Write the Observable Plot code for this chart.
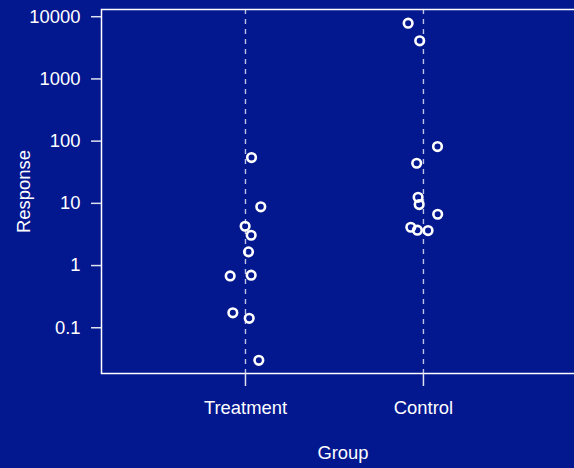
<!DOCTYPE html>
<html>
<head>
<meta charset="utf-8">
<script src="https://cdn.jsdelivr.net/npm/d3@7"></script>
<script src="https://cdn.jsdelivr.net/npm/@observablehq/plot@0.6"></script>
<style>
  html, body { margin: 0; padding: 0; background: #03178f; overflow: hidden; }
  #chart svg { display: block; max-width: none !important; }
</style>
</head>
<body>
<div id="chart"></div>
<script>
const groups = ["Treatment", "Control"];
const treatmentValues = [54.5, 8.8, 4.28, 3.07, 1.66, 0.68, 0.70, 0.174, 0.142, 0.030];
const treatmentJitter = [0.034, 0.086, -0.002, 0.032, 0.017, -0.086, 0.032, -0.071, 0.021, 0.075];
const controlValues = [7860, 4100, 81.9, 44.1, 12.5, 9.57, 6.68, 4.13, 3.70, 3.65];
const controlJitter = [-0.086, -0.021, 0.079, -0.038, -0.030, -0.024, 0.080, -0.071, -0.034, 0.026];
const yTicks = [0.1, 1, 10, 100, 1000, 10000];

const data = [
  ...treatmentValues.map((v, i) => ({group: 1, pos: 1 + treatmentJitter[i], value: v})),
  ...controlValues.map((v, i) => ({group: 2, pos: 2 + controlJitter[i], value: v}))
];

const font = "'Liberation Sans', Arial, Helvetica, sans-serif";
const fs = 18.4;

const chart = Plot.plot({
  width: 600,
  height: 468,
  marginLeft: 101,
  marginRight: 16,
  marginTop: 9,
  marginBottom: 95,
  style: {background: "#03178f", color: "#ffffff", fontFamily: font, fontSize: fs + "px", overflow: "visible", maxWidth: "none"},
  x: {type: "linear", domain: [0.191, 2.905], axis: null},
  y: {type: "log", domain: [0.0184, 13060], axis: null},
  marks: [
    Plot.ruleX([1, 2], {stroke: "#bcc3e6", strokeWidth: 1.4, strokeDasharray: "5,5"}),
    Plot.frame({stroke: "#ffffff", strokeWidth: 1.5}),
    Plot.axisY({ticks: yTicks, tickFormat: d => String(d), tickSize: 10, tickPadding: 11, fontSize: fs, stroke: "#e0e2f0", fill: "#ffffff", label: null, strokeWidth: 1.5}),
    Plot.axisX({ticks: [1, 2], tickFormat: d => groups[d - 1], tickSize: 13, tickPadding: 14, fontSize: fs, stroke: "#e0e2f0", fill: "#ffffff", label: null, strokeWidth: 1.5}),
    Plot.dot(data, {x: "pos", y: "value", r: 4.3, stroke: "#ffffff", strokeWidth: 2.6, fill: "none"}),
    Plot.text(["Response"], {frameAnchor: "left", dx: -77, rotate: -90, textAnchor: "middle", lineAnchor: "middle", text: d => d, fill: "#ffffff", fontSize: fs}),
    Plot.text(["Group"], {frameAnchor: "bottom", dy: 80, textAnchor: "middle", lineAnchor: "middle", text: d => d, fill: "#ffffff", fontSize: fs})
  ]
});
document.getElementById("chart").appendChild(chart);
</script>
</body>
</html>
